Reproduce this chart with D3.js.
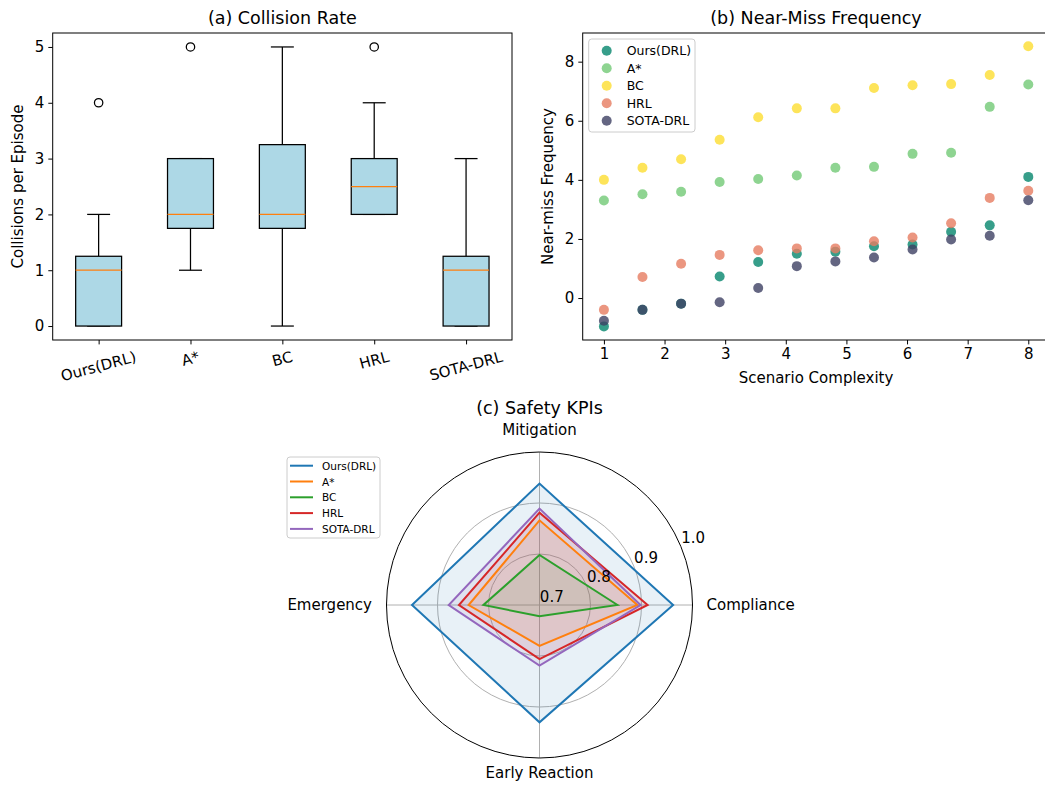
<!DOCTYPE html>
<html>
<head>
<meta charset="utf-8">
<script src="https://cdn.jsdelivr.net/npm/d3@7"></script>
<style>
body { margin: 0; background: #fff; }
svg, svg text { font-family: "DejaVu Sans", sans-serif; }
svg { display: block; }
</style>
</head>
<body>
<div id="chart"></div>
<script>
const methods = ["Ours(DRL)", "A*", "BC", "HRL", "SOTA-DRL"];

// (a) collision box stats
const boxQ1 = [0, 1.75, 1.75, 2, 0];
const boxMedian = [1, 2, 2, 2.5, 1];
const boxQ3 = [1.25, 3, 3.25, 3, 1.25];
const whiskerLow = [0, 1, 0, 2, 0];
const whiskerHigh = [2, 3, 5, 4, 3];
const boxOutliers = [[4], [5], [], [5], []];
const collisionTicks = [0, 1, 2, 3, 4, 5];

// (b) near-miss scatter
const complexity = [1, 1.636, 2.273, 2.909, 3.545, 4.182, 4.818, 5.455, 6.091, 6.727, 7.364, 8];
const nearMissOurs = [-0.96, -0.40, -0.19, 0.73, 1.22, 1.50, 1.57, 1.75, 1.81, 2.24, 2.46, 4.10];
const nearMissAstar = [3.30, 3.51, 3.60, 3.93, 4.03, 4.15, 4.41, 4.44, 4.88, 4.92, 6.47, 7.23];
const nearMissBC = [4.00, 4.41, 4.70, 5.36, 6.12, 6.42, 6.42, 7.11, 7.20, 7.24, 7.55, 8.52];
const nearMissHRL = [-0.40, 0.71, 1.16, 1.46, 1.62, 1.68, 1.68, 1.92, 2.05, 2.53, 3.39, 3.63];
const nearMissSOTA = [-0.77, -0.40, -0.19, -0.14, 0.34, 1.08, 1.24, 1.37, 1.64, 1.98, 2.11, 3.31];
const scatterColors = ["#05866d", "#72c976", "#fcdd31", "#e67c60", "#3d4063"];
const complexityTicks = [1, 2, 3, 4, 5, 6, 7, 8];
const nearMissTicks = [0, 2, 4, 6, 8];

// (c) safety KPI radar
const kpiAxes = ["Compliance", "Mitigation", "Emergency", "Early Reaction"];
const kpiOurs = [0.962, 0.938, 0.950, 0.930];
const kpiAstar = [0.892, 0.866, 0.839, 0.780];
const kpiBC = [0.853, 0.798, 0.810, 0.722];
const kpiHRL = [0.912, 0.881, 0.858, 0.806];
const kpiSOTA = [0.898, 0.889, 0.878, 0.819];
const radarColors = ["#1f77b4", "#ff7f0e", "#2ca02c", "#d62728", "#9467bd"];
const radarTicks = [0.7, 0.8, 0.9, 1.0];

const tickFont = 15;

const svg = d3.select("#chart").append("svg")
    .attr("width", 1045)
    .attr("height", 785);

svg.append("rect").attr("width", 1045).attr("height", 785).attr("fill", "#fff");

function styleAxis(g) {
    g.attr("font-size", tickFont).attr("font-family", "DejaVu Sans");
    g.selectAll("text").attr("fill", "#000");
    g.selectAll("line").attr("stroke", "#000");
    g.select(".domain").remove();
}

// ---------- (a) Collision Rate ----------
{
    const left = 52.7, right = 512, top = 33, bottom = 340;
    const x = d3.scalePoint().domain(methods).range([left, right]).padding(0.5);
    const y = d3.scaleLinear().domain([-0.25, 5.25]).range([bottom, top]);
    const boxW = x.step() * 0.5;

    const g = svg.append("g");

    g.append("g")
        .attr("transform", `translate(${left},0)`)
        .call(d3.axisLeft(y).tickValues(collisionTicks).tickFormat(d3.format("d")).tickSize(4.4).tickPadding(4))
        .call(styleAxis);

    g.append("g")
        .attr("transform", `translate(0,${bottom})`)
        .call(d3.axisBottom(x).tickSize(4.4).tickFormat(""))
        .call(styleAxis);

    methods.forEach((m, i) => {
        const cx = x(m);
        // whiskers
        g.append("line").attr("x1", cx).attr("x2", cx)
            .attr("y1", y(boxQ3[i])).attr("y2", y(whiskerHigh[i]))
            .attr("stroke", "#000").attr("stroke-width", 1.25);
        g.append("line").attr("x1", cx).attr("x2", cx)
            .attr("y1", y(boxQ1[i])).attr("y2", y(whiskerLow[i]))
            .attr("stroke", "#000").attr("stroke-width", 1.25);
        [whiskerLow[i], whiskerHigh[i]].forEach(v => {
            g.append("line").attr("x1", cx - boxW / 4).attr("x2", cx + boxW / 4)
                .attr("y1", y(v)).attr("y2", y(v))
                .attr("stroke", "#000").attr("stroke-width", 1.25);
        });
        g.append("rect")
            .attr("x", cx - boxW / 2).attr("width", boxW)
            .attr("y", y(boxQ3[i])).attr("height", y(boxQ1[i]) - y(boxQ3[i]))
            .attr("fill", "#add8e6").attr("stroke", "#000").attr("stroke-width", 1.25);
        g.append("line").attr("x1", cx - boxW / 2).attr("x2", cx + boxW / 2)
            .attr("y1", y(boxMedian[i])).attr("y2", y(boxMedian[i]))
            .attr("stroke", "#ff7f0e").attr("stroke-width", 1.25);
        boxOutliers[i].forEach(v => {
            g.append("circle").attr("cx", cx).attr("cy", y(v)).attr("r", 4.2)
                .attr("fill", "none").attr("stroke", "#000").attr("stroke-width", 1.25);
        });

        // rotated tick label
        const t = g.append("text")
            .attr("text-anchor", "middle")
            .attr("dominant-baseline", "central")
            .style("font-size", tickFont + "px")
            .text(m);
        const w = t.node().getComputedTextLength();
        const a = 15 * Math.PI / 180;
        const h = w * Math.sin(a) + tickFont * 1.1 * Math.cos(a);
        t.attr("transform", `translate(${cx},${bottom + 8.5 + h / 2}) rotate(-15)`);
    });

    g.append("rect")
        .attr("x", left).attr("y", top).attr("width", right - left).attr("height", bottom - top)
        .attr("fill", "none").attr("stroke", "#000").attr("stroke-width", 1);

    g.append("text")
        .attr("x", (left + right) / 2).attr("y", 17.5)
        .attr("text-anchor", "middle").attr("dominant-baseline", "central")
        .style("font-size", "17.5px")
        .text("(a) Collision Rate");

    g.append("text")
        .attr("transform", `translate(18,${(top + bottom) / 2}) rotate(-90)`)
        .attr("text-anchor", "middle").attr("dominant-baseline", "central")
        .style("font-size", "15px")
        .text("Collisions per Episode");
}

// ---------- (b) Near-Miss Frequency ----------
{
    const left = 582.7, right = 1049.5, top = 33, bottom = 340;
    const x = d3.scaleLinear().domain([0.65, 8.35]).range([left, right]);
    const y = d3.scaleLinear().domain([-1.42, 8.97]).range([bottom, top]);
    const series = [nearMissOurs, nearMissAstar, nearMissBC, nearMissHRL, nearMissSOTA];

    const g = svg.append("g");

    g.append("g")
        .attr("transform", `translate(${left},0)`)
        .call(d3.axisLeft(y).tickValues(nearMissTicks).tickFormat(d3.format("d")).tickSize(4.4).tickPadding(4))
        .call(styleAxis);

    g.append("g")
        .attr("transform", `translate(0,${bottom})`)
        .call(d3.axisBottom(x).tickValues(complexityTicks).tickFormat(d3.format("d")).tickSize(4.4).tickPadding(4))
        .call(styleAxis);

    series.forEach((vals, s) => {
        g.selectAll(null)
            .data(vals)
            .enter()
            .append("circle")
            .attr("cx", (d, i) => x(complexity[i]))
            .attr("cy", d => y(d))
            .attr("r", 5)
            .attr("fill", scatterColors[s])
            .attr("fill-opacity", 0.8);
    });

    g.append("rect")
        .attr("x", left).attr("y", top).attr("width", right - left).attr("height", bottom - top)
        .attr("fill", "none").attr("stroke", "#000").attr("stroke-width", 1);

    // legend
    const lg = g.append("g");
    lg.append("rect")
        .attr("x", 588.7).attr("y", 39).attr("width", 106.3).attr("height", 93).attr("rx", 3)
        .attr("fill", "#fff").attr("fill-opacity", 0.8)
        .attr("stroke", "#ccc").attr("stroke-width", 1);
    methods.forEach((m, i) => {
        const ly = 50.7 + i * 17.5;
        lg.append("circle").attr("cx", 606.7).attr("cy", ly).attr("r", 5)
            .attr("fill", scatterColors[i]).attr("fill-opacity", 0.8);
        lg.append("text").attr("x", 626.7).attr("y", ly)
            .attr("dominant-baseline", "central")
            .style("font-size", "12.5px")
            .text(m);
    });

    g.append("text")
        .attr("x", 816).attr("y", 17.5)
        .attr("text-anchor", "middle").attr("dominant-baseline", "central")
        .style("font-size", "17.5px")
        .text("(b) Near-Miss Frequency");

    g.append("text")
        .attr("x", 816).attr("y", 378)
        .attr("text-anchor", "middle").attr("dominant-baseline", "central")
        .style("font-size", "15px")
        .text("Scenario Complexity");

    g.append("text")
        .attr("transform", `translate(548,${(top + bottom) / 2}) rotate(-90)`)
        .attr("text-anchor", "middle").attr("dominant-baseline", "central")
        .style("font-size", "15px")
        .text("Near-miss Frequency");
}

// ---------- (c) Safety KPIs ----------
{
    const cx = 539.5, cy = 605, R = 153;
    const r = d3.scaleLinear().domain([0.7, 1.0]).range([0, R]);
    const series = [kpiOurs, kpiAstar, kpiBC, kpiHRL, kpiSOTA];
    const angle = i => Math.PI / 2 - i * Math.PI / 2; // d3 radial angle, clockwise from top

    const g = svg.append("g").attr("transform", `translate(${cx},${cy})`);

    // grid circles
    radarTicks.filter(v => v > 0.7 && v < 1.0).forEach(v => {
        g.append("circle").attr("r", r(v))
            .attr("fill", "none").attr("stroke", "#b0b0b0").attr("stroke-width", 1);
    });
    // spokes
    kpiAxes.forEach((a, i) => {
        g.append("line")
            .attr("x1", 0).attr("y1", 0)
            .attr("x2", R * Math.sin(angle(i))).attr("y2", -R * Math.cos(angle(i)))
            .attr("stroke", "#b0b0b0").attr("stroke-width", 1);
    });

    const radial = d3.lineRadial()
        .angle((d, i) => angle(i))
        .radius(d => r(d))
        .curve(d3.curveLinearClosed);

    series.forEach((vals, s) => {
        g.append("path").attr("d", radial(vals))
            .attr("fill", radarColors[s]).attr("fill-opacity", 0.1)
            .attr("stroke", "none");
    });
    series.forEach((vals, s) => {
        g.append("path").attr("d", radial(vals))
            .attr("fill", "none")
            .attr("stroke", radarColors[s]).attr("stroke-width", 2)
            .attr("stroke-linejoin", "miter");
    });

    g.append("circle").attr("r", R)
        .attr("fill", "none").attr("stroke", "#000").attr("stroke-width", 1);

    // radial tick labels at 22.5 deg
    const la = 22.5 * Math.PI / 180;
    radarTicks.forEach(v => {
        g.append("text")
            .attr("x", r(v) * Math.cos(la) + 12.3)
            .attr("y", -r(v) * Math.sin(la) - 8)
            .attr("text-anchor", "middle").attr("dominant-baseline", "central")
            .style("font-size", "15px")
            .text(v.toFixed(1));
    });

    // axis labels
    const labelPos = [
        { x: R + 14, y: 0, anchor: "start" },
        { x: 0, y: -R - 22, anchor: "middle" },
        { x: -R - 14.5, y: 0, anchor: "end" },
        { x: 0, y: R + 15, anchor: "middle" }
    ];
    kpiAxes.forEach((a, i) => {
        g.append("text")
            .attr("x", labelPos[i].x).attr("y", labelPos[i].y)
            .attr("text-anchor", labelPos[i].anchor).attr("dominant-baseline", "central")
            .style("font-size", "15px")
            .text(a);
    });

    svg.append("text")
        .attr("x", cx).attr("y", 408.3)
        .attr("text-anchor", "middle").attr("dominant-baseline", "central")
        .style("font-size", "17.5px")
        .text("(c) Safety KPIs");

    // legend
    const lg = svg.append("g");
    lg.append("rect")
        .attr("x", 287).attr("y", 457).attr("width", 93).attr("height", 81).attr("rx", 3)
        .attr("fill", "#fff").attr("fill-opacity", 0.8)
        .attr("stroke", "#ccc").attr("stroke-width", 1);
    methods.forEach((m, i) => {
        const ly = 465.7 + i * 15.8;
        lg.append("line").attr("x1", 290).attr("x2", 313).attr("y1", ly).attr("y2", ly)
            .attr("stroke", radarColors[i]).attr("stroke-width", 2);
        lg.append("text").attr("x", 322).attr("y", ly)
            .attr("dominant-baseline", "central")
            .style("font-size", "10.5px")
            .text(m);
    });
}
</script>
</body>
</html>
